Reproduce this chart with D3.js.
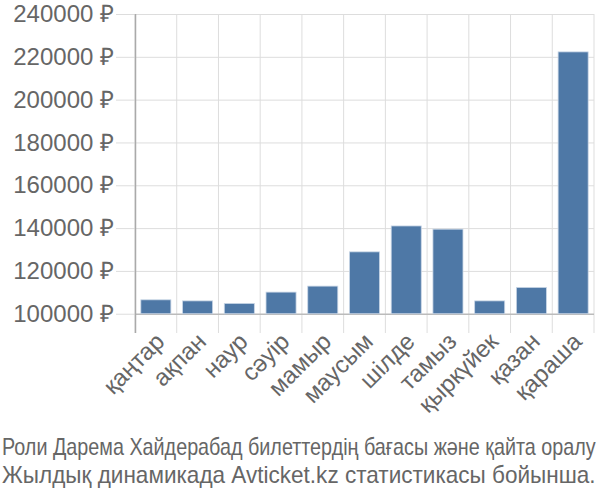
<!DOCTYPE html>
<html>
<head>
<meta charset="utf-8">
<script src="https://cdn.jsdelivr.net/npm/d3@7"></script>
<style>
body { margin: 0; background: #fff; }
svg text { font-family: "Liberation Sans", Arial, sans-serif; fill: #666; }
</style>
</head>
<body>
<div id="chart"></div>
<script>
var months = ["қаңтар", "ақпан", "наур", "сәуір", "мамыр", "маусым", "шілде", "тамыз", "қыркүйек", "қазан", "қараша"];
var prices = [106500, 106000, 104800, 110100, 112900, 128900, 141000, 139500, 106000, 112300, 222300];
var yTicks = [100000, 120000, 140000, 160000, 180000, 200000, 220000, 240000];
var titleLines = ["Роли Дарема Хайдерабад билеттердің бағасы және қайта оралу", "Жылдық динамикада Avticket.kz статистикасы бойынша."];

var width = 600, height = 500;
var margin = {left: 135, right: 6, top: 14, bottom: 167};

var svg = d3.select("#chart").append("svg")
	.attr("width", width)
	.attr("height", height);

var x = d3.scaleBand()
	.domain(months)
	.range([margin.left, width - margin.right])
	.paddingInner(0.28)
	.paddingOuter(0.14);

var y = d3.scaleLinear()
	.domain([91000, 240000])
	.range([height - margin.bottom, margin.top]);

// vertical grid at band edges
var edges = months.map(function(m) { return x(m) - x.step() * x.paddingInner() / 2; });
edges.push(width - margin.right);
svg.append("g").selectAll("line")
	.data(edges)
	.enter().append("line")
	.attr("x1", function(d) { return d; })
	.attr("x2", function(d) { return d; })
	.attr("y1", margin.top)
	.attr("y2", height - margin.bottom)
	.attr("stroke", "#ddd")
	.attr("stroke-width", 1);

// horizontal grid + y axis
var yAxis = svg.append("g")
	.attr("transform", "translate(" + margin.left + ",0)")
	.call(d3.axisLeft(y).tickValues(yTicks).tickSize(19).tickPadding(2)
		.tickFormat(function(d) { return d + " ₽"; }));
yAxis.select(".domain").remove();
yAxis.selectAll(".tick line").attr("stroke", "#ddd");
yAxis.selectAll(".tick text").attr("font-size", 24).attr("fill", "#666")
	.attr("font-family", "Liberation Sans, Arial, sans-serif");
svg.append("g").selectAll("line")
	.data(yTicks)
	.enter().append("line")
	.attr("x1", margin.left)
	.attr("x2", width - margin.right)
	.attr("y1", function(d) { return y(d) + 0.5; })
	.attr("y2", function(d) { return y(d) + 0.5; })
	.attr("stroke", function(d) { return d === 100000 ? "#bbb" : "#ddd"; })
	.attr("stroke-width", function(d) { return d === 100000 ? 1.5 : 1; });

// y axis line
svg.append("line")
	.attr("x1", margin.left + 0.5)
	.attr("x2", margin.left + 0.5)
	.attr("y1", margin.top)
	.attr("y2", height - margin.bottom)
	.attr("stroke", "#aaa")
	.attr("stroke-width", 1.5);

// bars
svg.append("g").selectAll("rect")
	.data(prices)
	.enter().append("rect")
	.attr("x", function(d, i) { return x(months[i]); })
	.attr("width", x.bandwidth())
	.attr("y", function(d) { return y(d); })
	.attr("height", function(d) { return y(100000) - y(d); })
	.attr("fill", "#4e78a6")
	.attr("stroke", "#c9d6e6")
	.attr("stroke-width", 0.8);

// x labels
svg.append("g").selectAll("text")
	.data(months)
	.enter().append("text")
	.attr("transform", function(d) {
		return "translate(" + (x(d) + x.bandwidth() / 2 + 10) + "," + (height - margin.bottom + 10) + ") rotate(-45)";
	})
	.attr("text-anchor", "end")
	.attr("font-size", 24)
	.text(function(d) { return d; });

// title, squeezed horizontally to fit the width like the condensed original
svg.append("g").selectAll("text")
	.data(titleLines)
	.enter().append("text")
	.attr("font-size", 23)
	.text(function(d) { return d; })
	.attr("transform", function(d, i) {
		var w = this.getComputedTextLength();
		var k = Math.min(1, 594 / w);
		return "translate(2," + (455 + i * 28) + ") scale(" + k + ",1)";
	});
</script>
</body>
</html>
